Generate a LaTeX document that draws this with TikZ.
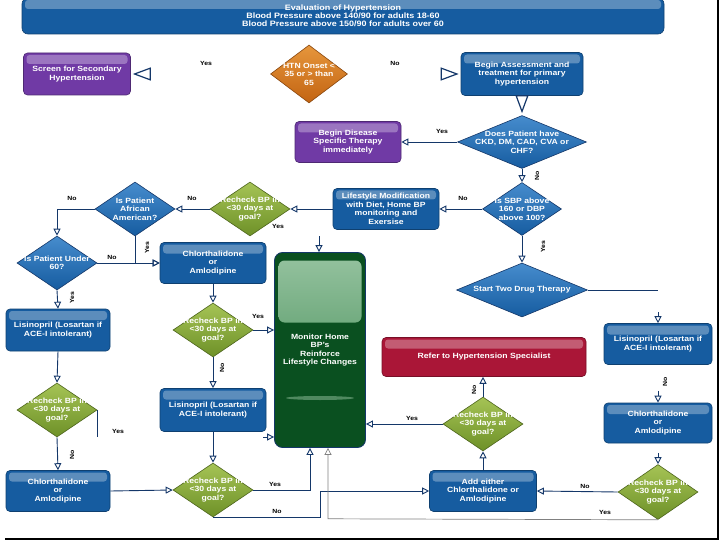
\documentclass[tikz,border=0pt]{standalone}
\usepackage{fontspec}
\setmainfont{Liberation Sans}[FakeStretch=1.15]
\usetikzlibrary{shapes.geometric,arrows.meta}

\definecolor{azul}{RGB}{22,92,160}
\definecolor{azulclaro}{RGB}{70,140,205}
\definecolor{azulosc}{RGB}{20,55,105}
\definecolor{morado}{RGB}{112,58,165}
\definecolor{naranja}{RGB}{195,100,18}
\definecolor{naranjaclaro}{RGB}{230,150,60}
\definecolor{verde}{RGB}{110,145,40}
\definecolor{verdeclaro}{RGB}{165,195,85}
\definecolor{verdeosc}{RGB}{10,80,32}
\definecolor{verdebrillo}{RGB}{150,195,160}
\definecolor{verdemedio}{RGB}{50,130,70}
\definecolor{rojo}{RGB}{170,22,55}

\begin{document}
\begin{tikzpicture}[x=1pt, y=-1pt,
    texto/.style={text=white, align=center, font=\fontsize{7.5}{8.5}\selectfont\bfseries},
    brillo/.style={path picture={
        \fill[white, opacity=0.3, rounded corners=3pt]
          ([xshift=3pt, yshift=-2pt]path picture bounding box.north west) rectangle
          ([xshift=-3pt, yshift=-11pt]path picture bounding box.north east);}},
    caja/.style={texto, rectangle, rounded corners=4pt, fill=#1, draw=#1!70!black,
        line width=0.6pt, inner sep=1pt, minimum width=106pt, minimum height=41pt, brillo},
    rombo/.style={texto, diamond, aspect=2, inner sep=-10pt, line width=0.6pt,
        minimum width=80pt, minimum height=54pt},
    romboazul/.style={rombo, top color=azulclaro, bottom color=azul, draw=azulosc},
    romboverde/.style={rombo, top color=verdeclaro, bottom color=verde, draw=verde!70!black},
    linea/.style={draw=azulosc, line width=0.9pt},
    flecha/.style={linea, -{Triangle[open, length=7pt, width=7pt]}},
    grande/.style={draw=white, line width=1.2pt, shorten <=1pt, shorten >=2pt,
        -{Triangle[open, length=18pt, width=13pt, color=azulosc]}},
    gris/.style={draw=gray, line width=0.7pt, -{Triangle[open, length=7pt, width=7pt]}},
    etiq/.style={font=\fontsize{6}{6}\selectfont\bfseries, inner sep=0pt}]

    \useasboundingbox[fill=white] (0,0) rectangle (720,540);

    % Encabezado
    \node[caja=azul, minimum width=642pt, minimum height=36pt, rounded corners=6pt,
        font=\fontsize{7.8}{8}\selectfont\bfseries] (enc) at (343,16)
        {Evaluation of Hypertension\\Blood Pressure above 140/90 for adults 18-60\\Blood Pressure above 150/90 for adults over 60};

    % Primera fila
    \node[rombo, top color=naranjaclaro, bottom color=naranja, draw=naranja!70!black,
        minimum width=77pt, minimum height=58pt] (inicio) at (309,74) {HTN Onset <\\35 or > than\\65};
    \node[caja=morado, minimum width=107pt, minimum height=42pt] (secund) at (77,74) {Screen for Secondary\\Hypertension};
    \node[caja=azul, minimum width=122pt, minimum height=43pt] (evalua) at (522,74) {Begin Assessment and\\treatment for primary\\hypertension};

    % Comorbilidades y presion
    \node[romboazul, minimum width=129pt, minimum height=53pt] (comorb) at (522,142) {Does Patient have\\CKD, DM, CAD, CVA or\\CHF?};
    \node[caja=morado] (terapia) at (348,142) {Begin Disease\\Specific Therapy\\immediately};
    \node[romboazul, minimum width=79pt, minimum height=53pt] (presion) at (522,209) {Is SBP above\\160 or DBP\\above 100?};
    \node[caja=azul] (estilo) at (386,209) {Lifestyle Modification\\with Diet, Home BP\\monitoring and\\Exersise};

    % Columna izquierda
    \node[romboverde] (rev1) at (250,209) {Recheck BP in\\<30 days at\\goal?};
    \node[romboazul] (afro) at (135,209) {Is Patient\\African\\American?};
    \node[romboazul] (edad) at (57,263) {Is Patient Under\\60?};
    \node[caja=azul] (clor1) at (213,263) {Chlorthalidone\\or\\Amlodipine};
    \node[romboverde] (rev2) at (213,330) {Recheck BP in\\<30 days at\\goal?};
    \node[caja=azul, minimum height=43pt] (lisi1) at (213,410) {Lisinopril (Losartan if\\ACE-I intolerant)};
    \node[romboverde] (rev3) at (213,490) {Recheck BP in\\<30 days at\\goal?};
    \node[caja=azul, minimum width=104pt, minimum height=42pt] (lisi2) at (58,330) {Lisinopril (Losartan if\\ACE-I intolerant)};
    \node[romboverde] (rev4) at (57,410) {Recheck BP in\\<30 days at\\goal?};
    \node[caja=azul, minimum width=104pt] (clor2) at (58,491) {Chlorthalidone\\or\\Amlodipine};

    % Caja central
    \node[texto, rectangle, rounded corners=8pt, fill=verdeosc, draw=azulosc, line width=0.8pt,
        minimum width=91pt, minimum height=195pt, path picture={
          \shade[top color=verdebrillo, bottom color=verdemedio, rounded corners=6pt]
            ([xshift=4pt, yshift=-8pt]path picture bounding box.north west) rectangle
            ([xshift=-4pt, yshift=-70pt]path picture bounding box.north east);
          \fill[verdebrillo, opacity=0.5] ([yshift=-48pt]path picture bounding box.center) ellipse (34pt and 2pt);}]
        (monitor) at (320,350) {Monitor Home\\BP's\\Reinforce\\Lifestyle Changes};

    % Columna derecha
    \node[romboazul, minimum width=131pt] (dos) at (522,290) {Start Two Drug Therapy};
    \node[caja=azul, minimum width=108pt] (lisi3) at (658,344) {Lisinopril (Losartan if\\ACE-I intolerant)};
    \node[caja=azul, minimum width=108pt, minimum height=40pt] (clor3) at (658,423) {Chlorthalidone\\or\\Amlodipine};
    \node[romboverde, minimum height=55pt] (rev5) at (658,492) {Recheck BP in\\<30 days at\\goal?};
    \node[caja=azul, minimum width=107pt] (agrega) at (483,491) {Add either\\Chlorthalidone or\\Amlodipine};
    \node[romboverde] (rev6) at (483,424) {Recheck BP in\\<30 days at\\goal?};
    \node[caja=rojo, minimum width=204pt, minimum height=39pt] (refer) at (484,357) {Refer to Hypertension Specialist};

    % Flechas superiores
    \draw[grande] (inicio.west) -- (secund.east);
    \draw[grande] (inicio.east) -- (evalua.west);
    \draw[grande] (evalua.south) -- (comorb.north);
    \node[etiq] (si1) at (206,63) {Yes};
    \node[etiq] (no1) at (395,63) {No};

    % Derecha
    \draw[linea] (dos.east) -- (lisi3.north |- dos.east) coordinate (c3);
    \draw[flecha, shorten <=22pt] (c3) -- (lisi3.north);
    \draw[flecha, shorten <=26pt] (lisi3.south) -- (clor3.north);
    \node[etiq, rotate=90] (no10) at (665,382) {No};
    \draw[flecha, shorten <=10pt] (clor3.south) -- (rev5.north);
    \draw[flecha] (rev5.west) -- (agrega.east);
    \node[etiq] (no11) at (585,486) {No};
    \draw[flecha] (agrega.north) -- (rev6.south);
    \draw[flecha] (rev6.west) -- (rev6.west -| monitor.east);
    \node[etiq] (si10) at (412,418) {Yes};
    \draw[flecha] (rev6.north) -- (rev6.north |- refer.south);
    \node[etiq, rotate=90] (no12) at (474,390) {No};

    \draw[flecha] (comorb.west) -- (terapia.east);
    \node[etiq] (si2) at (442,131) {Yes};
    \draw[flecha] (comorb.south) -- (presion.north);
    \node[etiq, rotate=90] (no2) at (537,176) {No};
    \draw[flecha] (presion.south) -- (dos.north);
    \node[etiq, rotate=90] (si11) at (543,247) {Yes};
    \draw[flecha] (presion.west) -- (estilo.east);
    \node[etiq] (no3) at (463,198) {No};
    \draw[flecha] (estilo.west) -- (rev1.east);

    \coordinate (c1) at (319,236);
    \draw[flecha] (c1) -- (c1 |- monitor.north);
    \node[etiq] (si3) at (278,226) {Yes};
    \draw[flecha] (rev1.west) -- (afro.east);
    \node[etiq] (no4) at (192,198) {No};
    \draw[flecha] (afro.west) -| (edad.north);
    \node[etiq] (no5) at (72,198) {No};
    \draw[flecha] (afro.south) |- (clor1.west);
    \node[etiq, rotate=90] (si4) at (147,248) {Yes};
    \draw[flecha] (edad.east) -- (clor1.west);
    \node[etiq] (no6) at (112,257) {No};

    % Izquierda hacia abajo
    \draw[flecha] (edad.south) -- (lisi2.north);
    \node[etiq, rotate=90] (si5) at (72,298) {Yes};
    \draw[flecha] (clor1.south) -- (rev2.north);
    \draw[flecha] (rev2.east) -- (rev2.east -| monitor.west);
    \node[etiq] (si6) at (258,316) {Yes};
    \draw[flecha] (rev2.south) -- (lisi1.north);
    \node[etiq, rotate=90] (no7) at (222,368) {No};
    \draw[flecha] (lisi2.south) -- (rev4.north);
    \draw[linea] (rev4.east) -- ++(0,27) coordinate (c2);
    \draw[flecha, shorten <=166pt] (c2) -- (c2 -| monitor.west);
    \node[etiq] (si7) at (118,431) {Yes};
    \draw[flecha] (rev4.south) -- (clor2.north);
    \node[etiq, rotate=90] (no8) at (72,455) {No};
    \draw[flecha] (lisi1.south) -- (rev3.north);
    \draw[flecha] (clor2.east) -- (rev3.west);
    \draw[flecha] (rev3.east) -| ([xshift=-10pt]monitor.south);
    \node[etiq] (si8) at (275,484) {Yes};
    \draw[flecha] (rev3.south) -- ++(107,0) |- (agrega.west);
    \node[etiq] (no9) at (277,511) {No};
    \draw[gris] (rev5.south) -- ++(-330,-1) -- ([xshift=8pt]monitor.south);
    \node[etiq] (si9) at (605,512) {Yes};

    % Marco
    \draw[black, line width=1.5pt] (5,539) -- (718,539) -- (718,0);
\end{tikzpicture}
\end{document}
